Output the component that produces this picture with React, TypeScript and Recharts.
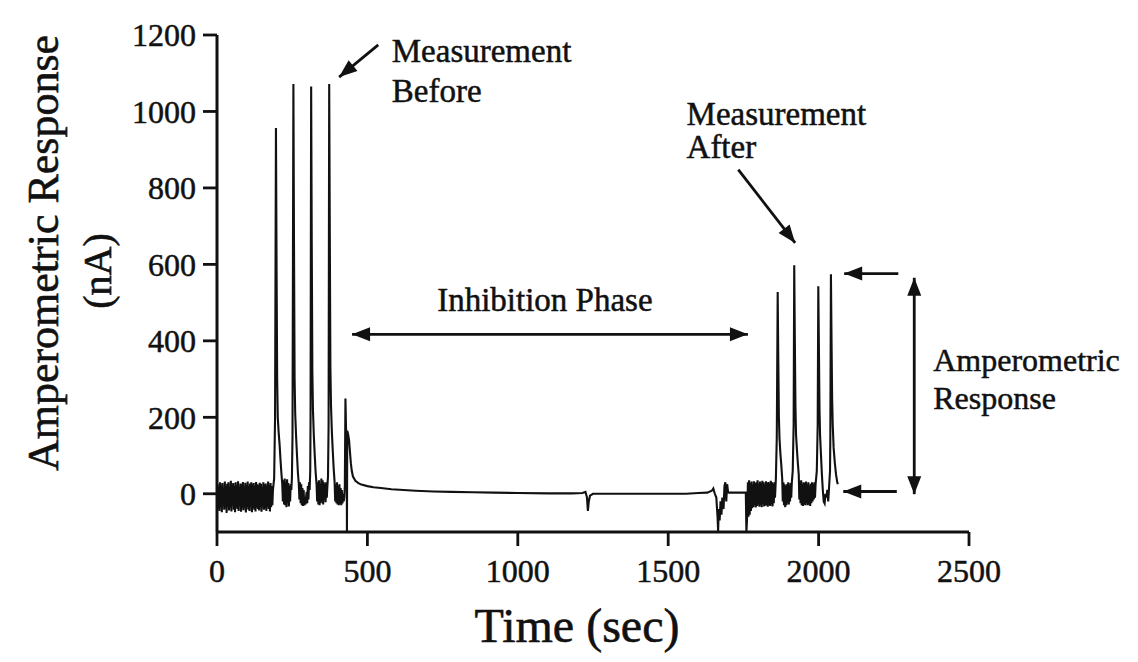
import { LineChart, Line, XAxis, YAxis, ReferenceLine, ReferenceDot } from 'recharts'

const FONT = '"Liberation Serif", "Times New Roman", Times, serif'
const INK = '#111111'

const xTicks = [0, 500, 1000, 1500, 2000, 2500]
const yTicks = [0, 200, 400, 600, 800, 1000, 1200]

// [time (sec), current (nA)]
const baselineNoise: [number, number][] = [
  [0, -10], [2, 25], [4, -40], [6, 18], [8, -45], [10, 30], [12, -35], [14, 22], [16, -48], [18, 28],
  [20, -30], [22, 15], [24, -42], [26, 32], [28, -38], [30, 20], [32, -50], [34, 26], [36, -33], [38, 30],
  [40, -44], [42, 18], [44, -36], [46, 34], [48, -46], [50, 24], [52, -30], [54, 28], [56, -42], [58, 20],
  [60, -48], [62, 30], [64, -35], [66, 22], [68, -40], [70, 33], [72, -45], [74, 18], [76, -32], [78, 27],
  [80, -47], [82, 25], [84, -38], [86, 31], [88, -43], [90, 19], [92, -36], [94, 29], [96, -49], [98, 23],
  [100, -34], [102, 32], [104, -41], [106, 21], [108, -45], [110, 27], [112, -33], [114, 30], [116, -48], [118, 24],
  [120, -37], [122, 28], [124, -42], [126, 20], [128, -46], [130, 31], [132, -35], [134, 25], [136, -40], [138, 22],
  [140, -44], [142, 29], [144, -36], [146, 26], [148, -47], [150, 18], [152, -33], [154, 30], [156, -42], [158, 24],
  [160, -38], [162, 27], [164, -45], [166, 21], [168, -34], [170, 32], [172, -40], [174, 23], [176, -46], [178, 28],
  [180, -35], [182, 20], [184, -30],
]

const peaksBefore: [number, number][] = [
  [186, 10], [190, 40], [193, 200], [196, 957], [198, 600], [200, 300], [202, 200], [205, 160], [208, 130], [211, 90],
  [214, 55], [217, 25], [219, -20], [221, 35], [223, -28], [225, 40], [227, -30], [229, 30], [231, -35], [233, 38],
  [235, -25], [237, 28], [239, -33], [241, 20], [243, -20], [245, 25], [247, 10], [249, 40],
  [251, 150], [254, 1072], [256, 650], [258, 300], [260, 210], [263, 150], [266, 100], [269, 55], [272, 25],
  [274, -15], [276, 30], [278, -25], [280, 25], [282, -30], [284, 15], [286, -32], [288, 10], [290, -30], [292, -20],
  [294, -28], [296, -10], [298, 5], [300, -25], [302, 20], [304, -15], [306, 30], [308, 10], [310, 60],
  [311, 200], [313, 1065], [315, 650], [317, 320], [319, 220], [322, 150], [325, 100], [328, 55], [331, 25],
  [333, -20], [335, 30], [337, -28], [339, 35], [341, -30], [343, 25], [345, -25], [347, 40], [349, -20], [351, 35],
  [353, -28], [355, 30], [357, -15], [359, 25], [361, -22], [363, 30], [365, -10], [367, 20], [369, 45],
  [371, 180], [373, 1072], [375, 680], [377, 330], [379, 230], [382, 160], [385, 110], [388, 65], [391, 30],
  [393, -20], [395, 25], [397, -25], [399, 30], [401, -28], [403, 20], [405, -30], [407, 25], [409, -26], [411, 15],
  [413, -30], [415, 10], [417, -25], [419, 0], [421, -20], [423, -10], [425, 20],
  [427, 249], [429, 170], [431, 150], [432, -100], [433, 165], [436, 155],
]

const inhibitionPhase: [number, number][] = [
  [439, 140], [442, 110], [445, 80], [448, 60], [452, 45], [460, 34], [470, 28], [480, 24], [500, 20], [520, 17],
  [545, 15], [580, 12], [620, 10], [660, 8], [720, 6], [780, 5], [850, 4], [920, 3], [1000, 2], [1100, 1],
  [1180, 1], [1215, 2], [1225, 5], [1230, -10], [1233, -45], [1236, -20], [1240, -5], [1250, 0], [1300, 0], [1400, 0],
  [1500, 0], [1560, 0], [1600, 2], [1630, 3], [1645, 8], [1650, 14], [1655, 0], [1660, -10], [1664, -60], [1666, -98],
  [1668, -40], [1671, -70], [1674, -20], [1677, -55], [1680, -10], [1684, -40], [1687, 20], [1690, 30], [1693, -20], [1696, 25],
  [1699, 5], [1702, 3], [1756, 3],
]

const noiseAfter: [number, number][] = [
  [1758, 3], [1760, -100], [1763, -50], [1765, 30], [1767, -60], [1769, 35], [1771, -55], [1773, 28], [1775, -45], [1777, 32],
  [1779, -38], [1781, 25], [1783, -35], [1785, 33], [1787, -30], [1789, 28], [1791, -36], [1793, 30], [1795, -32], [1797, 35],
  [1799, -28], [1801, 26], [1803, -34], [1805, 32], [1807, -30], [1809, 29], [1811, -35], [1813, 34], [1815, -27], [1817, 30],
  [1819, -33], [1821, 25], [1823, -31], [1825, 33], [1827, -29], [1829, 28], [1831, -34], [1833, 31], [1835, -30], [1837, 27],
  [1839, -32], [1841, 34], [1843, -28], [1845, 30], [1847, -33], [1849, 26], [1851, -25], [1853, 30], [1855, -10], [1858, 40],
]

const peaksAfter: [number, number][] = [
  [1861, 150], [1864, 528], [1866, 350], [1868, 200], [1870, 145], [1873, 105], [1876, 75], [1879, 40],
  [1881, -20], [1883, 30], [1885, -30], [1887, 25], [1889, -35], [1891, 20], [1893, -30], [1895, 25], [1897, -25], [1899, 30],
  [1901, -28], [1903, 22], [1905, -20], [1907, 28], [1909, -10], [1911, 30], [1914, 60],
  [1917, 180], [1919, 598], [1921, 400], [1923, 230], [1925, 155], [1928, 115], [1931, 80], [1934, 50],
  [1936, -15], [1938, 30], [1940, -25], [1942, 35], [1944, -30], [1946, 25], [1948, -32], [1950, 30], [1952, -28], [1954, 28],
  [1956, -30], [1958, 32], [1960, -25], [1962, 25], [1964, -30], [1966, 30], [1968, -28], [1970, 20], [1972, -32], [1974, 26],
  [1976, -25], [1978, 30], [1980, -20], [1982, 25], [1984, -15], [1986, 30], [1988, -10], [1990, 25], [1994, 60],
  [1997, 180], [1999, 543], [2001, 380], [2003, 220], [2005, 150], [2008, 100], [2011, 50], [2014, 10], [2017, -20], [2020, -25],
  [2023, 0], [2026, -10], [2029, 10], [2032, -20], [2035, 20], [2038, 60],
  [2039, 150], [2041, 574], [2043, 400], [2045, 250], [2047, 180], [2050, 120], [2054, 80], [2058, 50], [2062, 30], [2064, 25],
]

const trace = [...baselineNoise, ...peaksBefore, ...inhibitionPhase, ...noiseAfter, ...peaksAfter].map(([t, v]) => ({ t, v }))

function Arrow({ x1, y1, x2, y2, start, end }: any) {
  const a = Math.atan2(y2 - y1, x2 - x1)
  const head = (x: number, y: number, ang: number) => {
    const L = 18
    const W = 7
    const bx = x - L * Math.cos(ang)
    const by = y - L * Math.sin(ang)
    const pts = [
      [x, y],
      [bx - W * Math.sin(ang), by + W * Math.cos(ang)],
      [bx + W * Math.sin(ang), by - W * Math.cos(ang)],
    ]
    return <polygon points={pts.map((p) => p.join(',')).join(' ')} fill={INK} />
  }
  return (
    <g>
      <line x1={x1} y1={y1} x2={x2} y2={y2} stroke={INK} strokeWidth={2.8} />
      {start && head(x1, y1, a + Math.PI)}
      {end && head(x2, y2, a)}
    </g>
  )
}

function Note({ cx, cy, lines, gap = 38, anchor = 'start', size = 33 }: any) {
  return (
    <text x={cx} y={cy} fontFamily={FONT} fontSize={size} fill={INK} stroke={INK} strokeWidth={0.5} textAnchor={anchor}>
      {lines.map((l: string, i: number) => (
        <tspan key={l} x={cx} dy={i === 0 ? 0 : gap}>
          {l}
        </tspan>
      ))}
    </text>
  )
}

const tickStyle = { fontFamily: FONT, fontSize: 32, fill: INK, stroke: INK, strokeWidth: 0.5 }

export default function App() {
  return (
    <div style={{ position: 'absolute', left: 0, top: 0, width: 1138, height: 662, background: '#fff' }}>
      <LineChart width={1138} height={662} data={trace} margin={{ top: 35, right: 169, bottom: 0, left: 0 }}>
        <XAxis
          dataKey="t"
          type="number"
          domain={[0, 2500]}
          ticks={xTicks}
          interval={0}
          height={130}
          axisLine={{ stroke: INK, strokeWidth: 3 }}
          tickLine={{ stroke: INK, strokeWidth: 2.8 }}
          tickSize={14}
          tickMargin={13}
          tick={tickStyle}
          label={() => (
            <text x={577} y={642} textAnchor="middle" fontFamily={FONT} fontSize={48} fill={INK} stroke={INK} strokeWidth={0.6}>
              Time (sec)
            </text>
          )}
        />
        <YAxis
          type="number"
          domain={[-100, 1200]}
          ticks={yTicks}
          interval={0}
          width={217}
          axisLine={{ stroke: INK, strokeWidth: 3 }}
          tickLine={{ stroke: INK, strokeWidth: 2.8 }}
          tickSize={14}
          tickMargin={7}
          tick={tickStyle}
          label={() => (
            <g fontFamily={FONT} fill={INK} stroke={INK} strokeWidth={0.6}>
              <text x={43} y={253} transform="rotate(-90 43 253)" textAnchor="middle" dominantBaseline="central" fontSize={44}>
                Amperometric Response
              </text>
              <text x={97} y={271} transform="rotate(-90 97 271)" textAnchor="middle" dominantBaseline="central" fontSize={40}>
                (nA)
              </text>
            </g>
          )}
        />
        <Line dataKey="v" type="linear" stroke={INK} strokeWidth={2.1} dot={false} isAnimationActive={false} />

        <ReferenceLine segment={[{ x: 536, y: 1174 }, { x: 406, y: 1090 }]} shape={(p: any) => <Arrow {...p} end />} />
        <ReferenceLine segment={[{ x: 1733, y: 848 }, { x: 1922, y: 656 }]} shape={(p: any) => <Arrow {...p} end />} />
        <ReferenceLine segment={[{ x: 449, y: 417 }, { x: 1765, y: 417 }]} shape={(p: any) => <Arrow {...p} start end />} />
        <ReferenceLine segment={[{ x: 2265, y: 576 }, { x: 2085, y: 576 }]} shape={(p: any) => <Arrow {...p} end />} />
        <ReferenceLine segment={[{ x: 2260, y: 6 }, { x: 2082, y: 6 }]} shape={(p: any) => <Arrow {...p} end />} />
        <ReferenceLine segment={[{ x: 2318, y: 565 }, { x: 2318, y: -1 }]} shape={(p: any) => <Arrow {...p} start end />} />

        <ReferenceDot x={581} y={1130} r={0} shape={(p: any) => <Note {...p} lines={['Measurement', 'Before']} gap={40} />} />
        <ReferenceDot x={1561} y={965} r={0} shape={(p: any) => <Note {...p} lines={['Measurement', 'After']} gap={33} />} />
        <ReferenceDot x={1090} y={477} r={0} shape={(p: any) => <Note {...p} lines={['Inhibition Phase']} anchor="middle" />} />
        <ReferenceDot x={2381} y={322} r={0} shape={(p: any) => <Note {...p} lines={['Amperometric', 'Response']} gap={38} size={32} />} />
      </LineChart>
    </div>
  )
}
